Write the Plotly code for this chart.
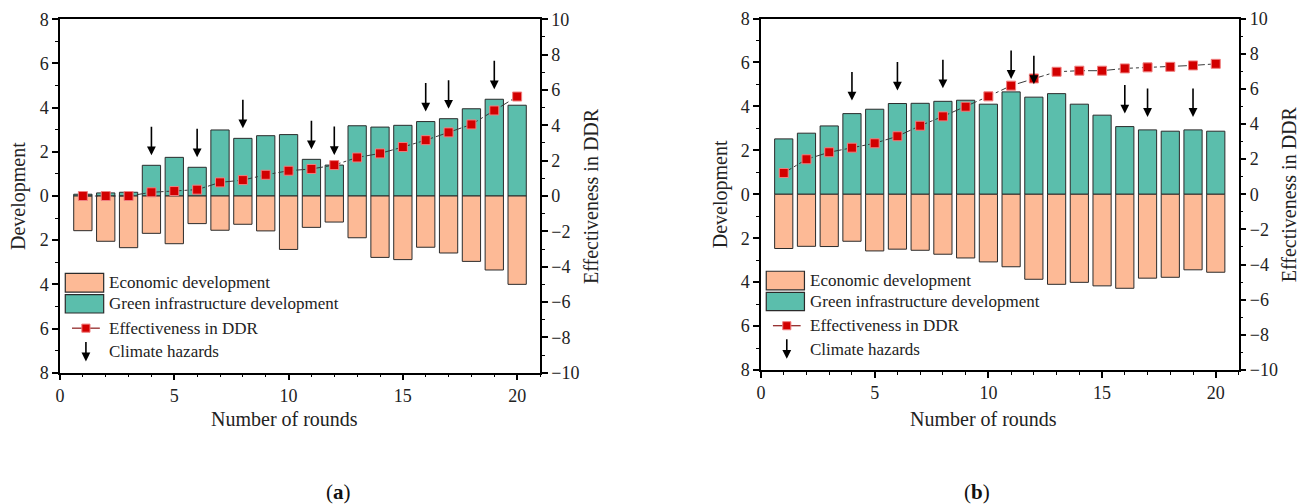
import plotly.graph_objects as go

# ---------------- data ----------------
rounds = list(range(1, 21))
a_green = [0.08, 0.14, 0.17, 1.39, 1.75, 1.30, 2.99, 2.61, 2.73, 2.78,
           1.66, 1.40, 3.18, 3.12, 3.20, 3.37, 3.50, 3.95, 4.38, 4.11]
a_econ = [1.57, 2.05, 2.34, 1.69, 2.16, 1.25, 1.55, 1.28, 1.58, 2.42,
          1.42, 1.18, 1.89, 2.78, 2.88, 2.32, 2.58, 2.96, 3.35, 4.00]
a_ddr = [0.0, 0.0, 0.0, 0.21, 0.28, 0.36, 0.77, 0.90, 1.20, 1.43,
         1.53, 1.75, 2.18, 2.41, 2.77, 3.16, 3.60, 4.05, 4.84, 5.63]
b_green = [2.52, 2.78, 3.11, 3.67, 3.87, 4.13, 4.14, 4.23, 4.28, 4.10,
           4.66, 4.42, 4.58, 4.10, 3.60, 3.08, 2.93, 2.87, 2.93, 2.87]
b_econ = [2.47, 2.37, 2.38, 2.14, 2.58, 2.50, 2.55, 2.73, 2.90, 3.08,
          3.30, 3.87, 4.10, 4.01, 4.17, 4.28, 3.82, 3.78, 3.44, 3.55]
b_ddr = [1.21, 1.99, 2.39, 2.65, 2.90, 3.30, 3.90, 4.43, 4.98, 5.57,
         6.18, 6.59, 6.97, 7.03, 7.03, 7.16, 7.22, 7.25, 7.33, 7.42]
hazards_a = [4, 6, 8, 11, 12, 16, 17, 19]
hazards_b = [4, 6, 8, 11, 12, 16, 17, 19]

left_ticks = [-8, -6, -4, -2, 0, 2, 4, 6, 8]
left_text = [str(abs(v)) for v in left_ticks]
right_ticks = [-10, -8, -6, -4, -2, 0, 2, 4, 6, 8, 10]
x_ticks = [0, 5, 10, 15, 20]

legend_labels = ["Economic development", "Green infrastructure development",
                 "Effectiveness in DDR", "Climate hazards"]
panel_labels = ["(<b>a</b>)", "(<b>b</b>)"]
x_title = "Number of rounds"
y_title = "Development"
y2_title = "Effectiveness in DDR"

# ---------------- style ----------------
FONT = "Liberation Serif"
PEACH = "#FDBA96"
TEAL = "#5BBEAC"
RED = "#D20000"
EDGE = "#2b2b2b"
W, H = 1307, 504
OFF = 8  # page body margin


def px(x):
    return (x - OFF) / W


def py(y):
    return 1 - (y - OFF) / H


fig = go.Figure()


def add_panel(green, econ, ddr, hazards, xa, ya, ya2, yshift):
    fig.add_trace(go.Bar(x=rounds, y=green, width=0.8, marker=dict(color=TEAL, line=dict(color=EDGE, width=1)),
                         xaxis=xa, yaxis=ya, showlegend=False))
    fig.add_trace(go.Bar(x=rounds, y=[-v for v in econ], width=0.8,
                         marker=dict(color=PEACH, line=dict(color=EDGE, width=1)),
                         xaxis=xa, yaxis=ya, showlegend=False))
    fig.add_trace(go.Scatter(x=rounds, y=ddr, mode="lines+markers",
                             line=dict(color="#3a3a3a", width=1, dash="dashdot"),
                             marker=dict(symbol="square", size=9, color=RED, line=dict(color="#F08080", width=1)),
                             xaxis=xa, yaxis=ya2, showlegend=False))
    for r in hazards:
        fig.add_annotation(x=r, y=green[r - 1], xref=xa, yref=ya, text="", showarrow=True,
                           ax=0, ay=-30, yshift=yshift, arrowhead=2, arrowsize=1.1, arrowwidth=1.6,
                           arrowcolor="black")


add_panel(a_green, a_econ, a_ddr, hazards_a, "x", "y", "y2", 10)
add_panel(b_green, b_econ, b_ddr, hazards_b, "x2", "y3", "y4", 13)

tickfont = dict(family=FONT, size=18, color="#222")
minor = dict(dtick=1, tick0=0, ticks="outside", ticklen=3, tickwidth=1.2, tickcolor="black")
xcommon = dict(range=[0, 21], tickvals=x_ticks, ticks="outside", ticklen=6, tickwidth=1.5, tickcolor="black",
               minor=minor, showline=True, linecolor="black", linewidth=1.5, mirror=True, showgrid=False,
               zeroline=False, tickfont=tickfont, automargin=False)
ycommon = dict(range=[-8, 8], tickvals=left_ticks, ticktext=left_text, ticks="outside", ticklen=6,
               tickwidth=1.5, tickcolor="black", minor=minor,
               showline=True, linecolor="black", linewidth=1.5, showgrid=False, zeroline=False,
               tickfont=tickfont, automargin=False)
y2common = dict(range=[-10, 10], tickvals=right_ticks, side="right", ticks="outside", ticklen=6,
                tickwidth=1.5, tickcolor="black", minor=minor,
                showline=True, linecolor="black", linewidth=1.5, showgrid=False, zeroline=False,
                tickfont=tickfont, automargin=False)

dom_a = [px(60), px(540)]
dom_b = [px(761), px(1238.5)]
ydom_a = [py(372.7), py(19.3)]
ydom_b = [py(370), py(18.5)]

fig.update_layout(
    template="none", width=W, height=H, margin=dict(l=0, r=0, t=0, b=0),
    paper_bgcolor="white", plot_bgcolor="white", barmode="relative", showlegend=False,
    font=dict(family=FONT, size=18, color="#222"),
    xaxis=dict(domain=dom_a, anchor="y", **xcommon),
    yaxis=dict(domain=ydom_a, anchor="x", **ycommon),
    yaxis2=dict(overlaying="y", anchor="x", **y2common),
    xaxis2=dict(domain=dom_b, anchor="y3", **xcommon),
    yaxis3=dict(domain=ydom_b, anchor="x2", **ycommon),
    yaxis4=dict(overlaying="y3", anchor="x2", **y2common),
)

# titles and manual legend
panels = [("x", "y", ydom_a, 18, 591, 338, 0), ("x2", "y3", ydom_b, 720, 1289, 977, 1)]
for xa, ya, dy, ylx, yrx, plx, k in panels:
    ymid = (dy[0] + dy[1]) / 2
    fig.add_annotation(x=9.8, xref=xa, y=py(419), yref="paper", text=x_title, showarrow=False,
                       xanchor="center", yanchor="middle", font=dict(family=FONT, size=20, color="#222"))
    fig.add_annotation(x=px(ylx), xref="paper", y=ymid, yref="paper", text=y_title, xanchor="center",
                       yanchor="middle", textangle=-90, showarrow=False,
                       font=dict(family=FONT, size=20, color="#222"))
    fig.add_annotation(x=px(yrx), xref="paper", y=ymid, yref="paper", text=y2_title, xanchor="center",
                       yanchor="middle", textangle=-90, showarrow=False,
                       font=dict(family=FONT, size=20, color="#222"))
    fig.add_annotation(x=px(plx), xref="paper", y=py(492), yref="paper", text=panel_labels[k],
                       xanchor="center", yanchor="middle", showarrow=False,
                       font=dict(family=FONT, size=21, color="#111"))

    xd, yd = xa + " domain", ya + " domain"
    fig.add_shape(type="rect", xref=xd, yref=yd, x0=0.011, x1=0.091, y0=0.228, y1=0.281,
                  fillcolor=PEACH, line=dict(color=EDGE, width=1.2))
    fig.add_shape(type="rect", xref=xd, yref=yd, x0=0.011, x1=0.091, y0=0.169, y1=0.221,
                  fillcolor=TEAL, line=dict(color=EDGE, width=1.2))
    fig.add_shape(type="line", xref=xd, yref=yd, x0=0.025, x1=0.083, y0=0.126, y1=0.126,
                  line=dict(color="#8B1A1A", width=1.2))
    fig.add_shape(type="rect", xref=xd, yref=yd, x0=0.0455, x1=0.0625, y0=0.1145, y1=0.1375,
                  fillcolor=RED, line=dict(color="#F08080", width=1))
    fig.add_annotation(x=0.054, y=0.032, xref=xd, yref=yd, text="", showarrow=True, ax=0, ay=-21,
                       arrowhead=2, arrowsize=1.1, arrowwidth=1.6, arrowcolor="black")
    for lbl, yy in zip(legend_labels, [0.254, 0.195, 0.126, 0.0586]):
        fig.add_annotation(x=0.098, y=yy, xref=xd, yref=yd, text=lbl, showarrow=False, xanchor="left",
                           yanchor="middle", font=dict(family=FONT, size=17, color="#222"))

fig.write_html("out.html")
